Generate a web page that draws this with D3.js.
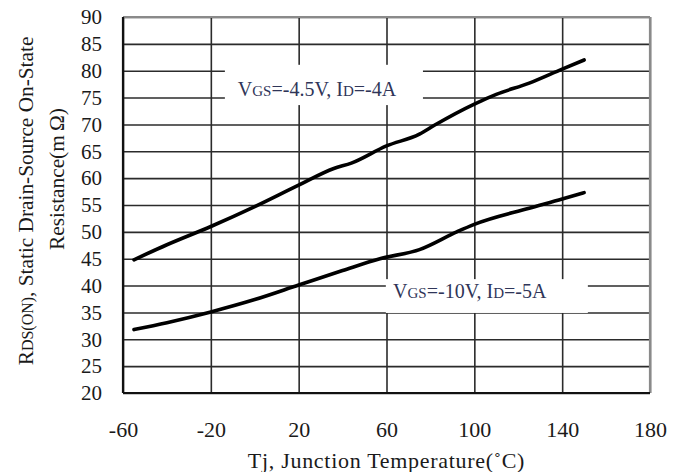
<!DOCTYPE html>
<html lang="en">
<head>
  <meta charset="UTF-8">
  <title>RDS(ON) vs Junction Temperature</title>
  <script src="https://d3js.org/d3.v7.min.js"></script>
  <style>
    body { margin: 0; background: #fff; }
    text { font-family: "Liberation Serif", "DejaVu Serif", serif; }
  </style>
</head>
<body>
  <div id="chart"></div>
  <script>
    // data
    const xTicks = [-60, -20, 20, 60, 100, 140, 180];
    const yTicks = [20, 25, 30, 35, 40, 45, 50, 55, 60, 65, 70, 75, 80, 85, 90];

    const tempHigh = [-55, -40, -20, 0, 20, 36, 44, 60, 75, 82, 100, 110, 125, 140, 150];
    const rdsHigh = [44.8, 47.6, 51, 54.7, 58.7, 61.8, 62.8, 66, 68.2, 69.9, 73.8, 75.6, 77.7, 80.3, 82];

    const tempLow = [-55, -40, -20, 0, 20, 40, 57, 75, 92, 100, 125, 140, 150];
    const rdsLow = [31.8, 33.1, 35.1, 37.4, 40.1, 42.8, 45, 46.7, 50, 51.4, 54.4, 56.1, 57.3];

    const W = 683, H = 472;
    const margin = { top: 17, right: 33, bottom: 79, left: 123 };
    const width = W - margin.left - margin.right;
    const height = H - margin.top - margin.bottom;

    const svg = d3.select('#chart').append('svg')
      .attr('width', W)
      .attr('height', H);

    const g = svg.append('g')
      .attr('transform', `translate(${margin.left},${margin.top})`);

    const x = d3.scaleLinear().domain([-60, 180]).range([0, width]);
    const y = d3.scaleLinear().domain([20, 90]).range([height, 0]);

    // grid lines
    g.append('g')
      .attr('class', 'grid')
      .attr('transform', `translate(0,${height})`)
      .call(d3.axisBottom(x).tickValues(xTicks).tickSize(-height).tickFormat(''))
      .call(s => s.select('.domain').remove())
      .selectAll('line').attr('stroke', '#2b2b2b').attr('stroke-width', 1.6);

    g.append('g')
      .attr('class', 'grid')
      .call(d3.axisLeft(y).tickValues(yTicks).tickSize(-width).tickFormat(''))
      .call(s => s.select('.domain').remove())
      .selectAll('line').attr('stroke', '#2b2b2b').attr('stroke-width', 1.6);

    // white label boxes interrupting the grid
    const boxes = [
      { x0: -13.6, x1: 76.6, y0: 73.6, y1: 81.1 },
      { x0: 59.7, x1: 151.7, y0: 34.9, y1: 41.2 }
    ];
    g.selectAll('rect.box').data(boxes).enter().append('rect')
      .attr('class', 'box')
      .attr('x', d => x(d.x0))
      .attr('y', d => y(d.y1))
      .attr('width', d => x(d.x1) - x(d.x0))
      .attr('height', d => y(d.y0) - y(d.y1))
      .attr('fill', '#fff');

    // frame: top/right grey, left/bottom black
    g.append('line').attr('x1', 0).attr('x2', width).attr('y1', 0).attr('y2', 0)
      .attr('stroke', '#8a8a8a').attr('stroke-width', 2.2);
    g.append('line').attr('x1', width).attr('x2', width).attr('y1', 0).attr('y2', height)
      .attr('stroke', '#8a8a8a').attr('stroke-width', 2.2);
    g.append('line').attr('x1', 0).attr('x2', 0).attr('y1', 0).attr('y2', height)
      .attr('stroke', '#111').attr('stroke-width', 2.2);
    g.append('line').attr('x1', 0).attr('x2', width).attr('y1', height).attr('y2', height)
      .attr('stroke', '#111').attr('stroke-width', 2.2);

    // curves
    const line = d3.line()
      .x(d => x(d[0]))
      .y(d => y(d[1]))
      .curve(d3.curveMonotoneX);

    const series = [
      d3.zip(tempHigh, rdsHigh),
      d3.zip(tempLow, rdsLow)
    ];
    g.selectAll('path.curve').data(series).enter().append('path')
      .attr('class', 'curve')
      .attr('d', line)
      .attr('fill', 'none')
      .attr('stroke', '#000')
      .attr('stroke-width', 3.6)
      .attr('stroke-linecap', 'round');

    // tick labels (plain hyphen for negatives, like the reference)
    const xAxis = g.append('g')
      .attr('transform', `translate(0,${height})`)
      .call(d3.axisBottom(x).tickValues(xTicks).tickSize(0).tickPadding(28)
        .tickFormat(d => String(d)));
    xAxis.select('.domain').remove();
    xAxis.selectAll('text').attr('font-size', 22).attr('fill', '#1a1a1a')
      .style('font-family', '"Liberation Serif", serif');

    const yAxis = g.append('g')
      .call(d3.axisLeft(y).tickValues(yTicks).tickSize(0).tickPadding(21));
    yAxis.select('.domain').remove();
    yAxis.selectAll('text').attr('font-size', 21).attr('fill', '#1a1a1a')
      .style('font-family', '"Liberation Serif", serif');

    // annotations
    const noteColor = '#2f3558';
    function note(px, py, parts) {
      const t = g.append('text').attr('x', px).attr('y', py)
        .attr('fill', noteColor).attr('font-size', 20);
      parts.forEach(p => t.append('tspan').attr('font-size', p[1]).text(p[0]));
    }
    note(x(-7.7), y(75.2), [['V', 20], ['GS', 15], ['=-4.5V, I', 20], ['D', 15], ['=-4A', 20]]);
    note(x(63), y(37.6), [['V', 20], ['GS', 15], ['=-10V, I', 20], ['D', 15], ['=-5A', 20]]);

    // axis titles
    svg.append('text')
      .attr('x', margin.left + width / 2)
      .attr('y', 468)
      .attr('text-anchor', 'middle')
      .attr('font-size', 22)
      .attr('letter-spacing', 0.7)
      .attr('fill', '#1a1a1a')
      .text('Tj, Junction Temperature(˚C)');

    const yt1 = svg.append('text')
      .attr('transform', 'translate(33,201) rotate(-90)')
      .attr('text-anchor', 'middle')
      .attr('font-size', 21.3)
      .attr('fill', '#1a1a1a');
    yt1.append('tspan').text('R');
    yt1.append('tspan').attr('font-size', 16).text('DS(ON)');
    yt1.append('tspan').text(', Static Drain-Source On-State');

    svg.append('text')
      .attr('transform', 'translate(64,179) rotate(-90)')
      .attr('text-anchor', 'middle')
      .attr('font-size', 21.3)
      .attr('fill', '#1a1a1a')
      .text('Resistance(m\u2009Ω)');
  </script>
</body>
</html>
